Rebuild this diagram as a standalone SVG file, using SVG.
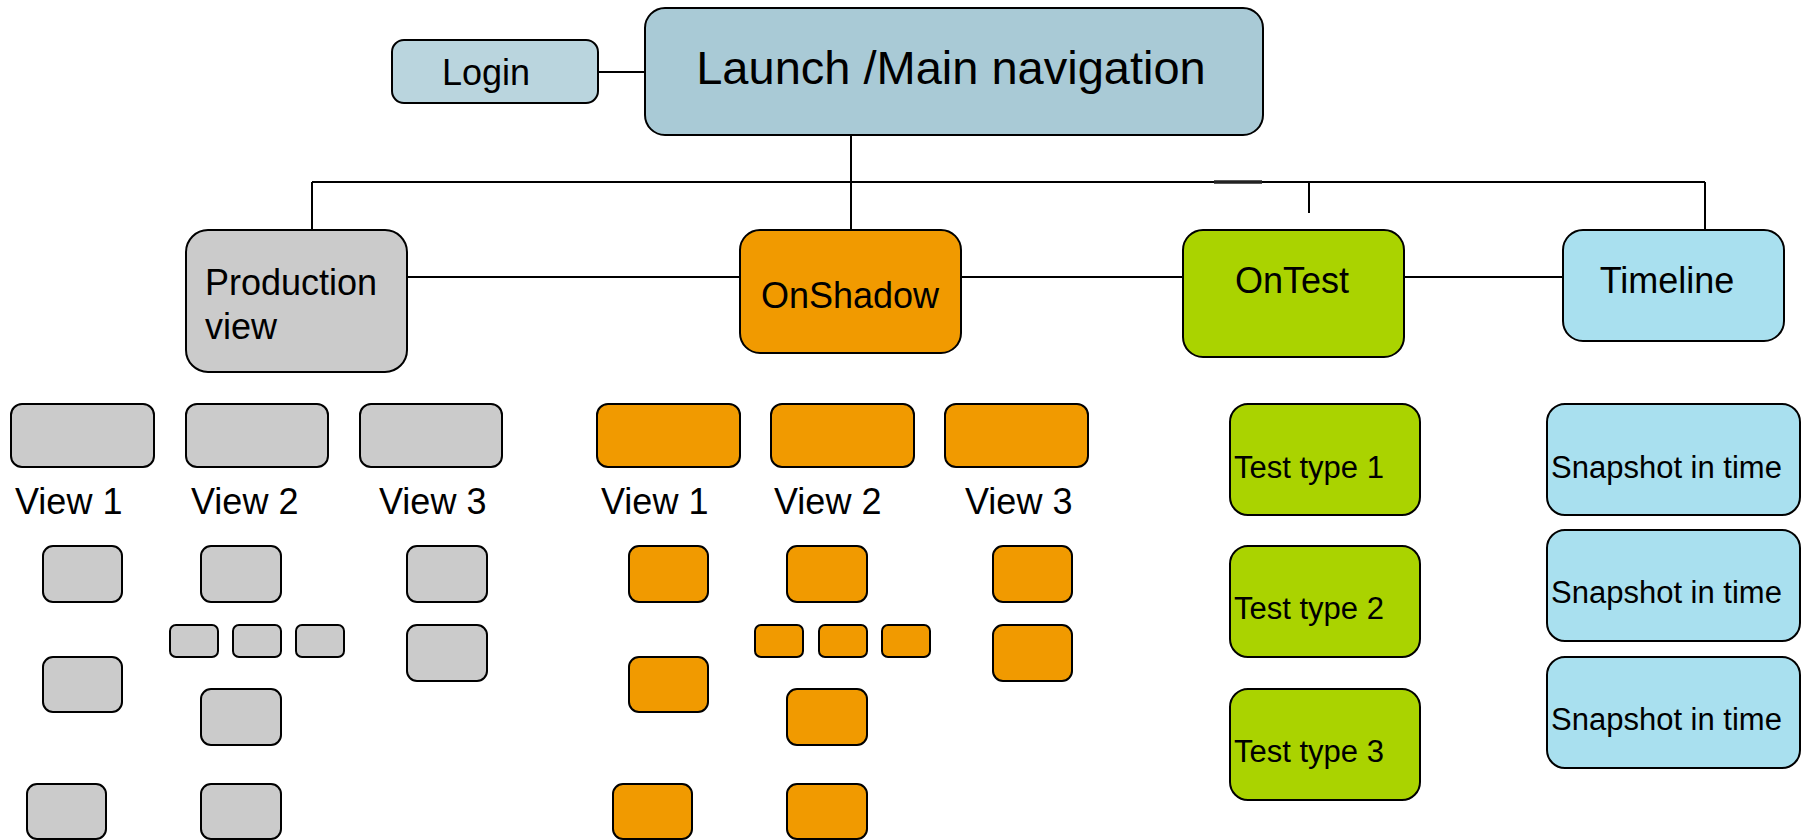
<svg xmlns="http://www.w3.org/2000/svg" width="1809" height="840" viewBox="0 0 1809 840">
<style>
rect{stroke:#000;stroke-width:2}
.login{fill:#bad5de}
.main{fill:#a9cad6}
.gray{fill:#cbcbcb}
.orange{fill:#f19a00}
.green{fill:#aad300}
.cyan{fill:#a9e0ef}
text{font-family:"Liberation Sans",Arial,sans-serif;fill:#000}
.t36{font-size:36px}
.t31{font-size:31px}
.conn line{stroke:#000;stroke-width:2}
</style>
<rect x="0" y="0" width="1809" height="840" fill="#fff" style="stroke:none"/>
<g id="connectors" class="conn">
  <line x1="598" y1="72" x2="645" y2="72"/>
  <line x1="851" y1="135" x2="851" y2="230"/>
  <line x1="312" y1="182" x2="1705" y2="182"/>
  <line x1="1214" y1="182" x2="1262" y2="182" style="stroke-width:3.5;stroke:#222"/>
  <line x1="312" y1="182" x2="312" y2="230"/>
  <line x1="1309" y1="182" x2="1309" y2="213"/>
  <line x1="1705" y1="182" x2="1705" y2="230"/>
  <line x1="407" y1="277" x2="740" y2="277"/>
  <line x1="961" y1="277" x2="1183" y2="277"/>
  <line x1="1404" y1="277" x2="1563" y2="277"/>
</g>
<g id="login"><rect class="login" x="392" y="40" width="206" height="63" rx="12"/><text class="t36" x="486" y="85" text-anchor="middle">Login</text></g>
<g id="main"><rect class="main" x="645" y="8" width="618" height="127" rx="20"/><text x="951" y="84" font-size="47" text-anchor="middle">Launch /Main navigation</text></g>
<g id="production"><rect class="gray" x="186" y="230" width="221" height="142" rx="22"/><text class="t36" x="205" y="295">Production</text><text class="t36" x="205" y="339">view</text></g>
<g id="onshadow"><rect class="orange" x="740" y="230" width="221" height="123" rx="20"/><text class="t36" x="850" y="308" text-anchor="middle">OnShadow</text></g>
<g id="ontest"><rect class="green" x="1183" y="230" width="221" height="127" rx="20"/><text class="t36" x="1292" y="293" text-anchor="middle">OnTest</text></g>
<g id="timeline"><rect class="cyan" x="1563" y="230" width="221" height="111" rx="20"/><text class="t36" x="1667" y="293" text-anchor="middle">Timeline</text></g>

<g id="prod-view1"><rect class="gray" x="11" y="404" width="143" height="63" rx="11"/><text class="t36" x="15" y="514">View 1</text></g>
<g id="prod-view2"><rect class="gray" x="186" y="404" width="142" height="63" rx="11"/><text class="t36" x="191" y="514">View 2</text></g>
<g id="prod-view3"><rect class="gray" x="360" y="404" width="142" height="63" rx="11"/><text class="t36" x="379" y="514">View 3</text></g>
<g id="prod-v1-a"><rect class="gray" x="43" y="546" width="79" height="56" rx="10"/></g>
<g id="prod-v1-b"><rect class="gray" x="43" y="657" width="79" height="55" rx="10"/></g>
<g id="prod-v1-c"><rect class="gray" x="27" y="784" width="79" height="55" rx="10"/></g>
<g id="prod-v2-a"><rect class="gray" x="201" y="546" width="80" height="56" rx="10"/></g>
<g id="prod-v2-s1"><rect class="gray" x="170" y="625" width="48" height="32" rx="6"/></g>
<g id="prod-v2-s2"><rect class="gray" x="233" y="625" width="48" height="32" rx="6"/></g>
<g id="prod-v2-s3"><rect class="gray" x="296" y="625" width="48" height="32" rx="6"/></g>
<g id="prod-v2-b"><rect class="gray" x="201" y="689" width="80" height="56" rx="10"/></g>
<g id="prod-v2-c"><rect class="gray" x="201" y="784" width="80" height="55" rx="10"/></g>
<g id="prod-v3-a"><rect class="gray" x="407" y="546" width="80" height="56" rx="10"/></g>
<g id="prod-v3-b"><rect class="gray" x="407" y="625" width="80" height="56" rx="10"/></g>

<g id="shadow-view1"><rect class="orange" x="597" y="404" width="143" height="63" rx="11"/><text class="t36" x="601" y="514">View 1</text></g>
<g id="shadow-view2"><rect class="orange" x="771" y="404" width="143" height="63" rx="11"/><text class="t36" x="774" y="514">View 2</text></g>
<g id="shadow-view3"><rect class="orange" x="945" y="404" width="143" height="63" rx="11"/><text class="t36" x="965" y="514">View 3</text></g>
<g id="shadow-v1-a"><rect class="orange" x="629" y="546" width="79" height="56" rx="10"/></g>
<g id="shadow-v1-b"><rect class="orange" x="629" y="657" width="79" height="55" rx="10"/></g>
<g id="shadow-v1-c"><rect class="orange" x="613" y="784" width="79" height="55" rx="10"/></g>
<g id="shadow-v2-a"><rect class="orange" x="787" y="546" width="80" height="56" rx="10"/></g>
<g id="shadow-v2-s1"><rect class="orange" x="755" y="625" width="48" height="32" rx="6"/></g>
<g id="shadow-v2-s2"><rect class="orange" x="819" y="625" width="48" height="32" rx="6"/></g>
<g id="shadow-v2-s3"><rect class="orange" x="882" y="625" width="48" height="32" rx="6"/></g>
<g id="shadow-v2-b"><rect class="orange" x="787" y="689" width="80" height="56" rx="10"/></g>
<g id="shadow-v2-c"><rect class="orange" x="787" y="784" width="80" height="55" rx="10"/></g>
<g id="shadow-v3-a"><rect class="orange" x="993" y="546" width="79" height="56" rx="10"/></g>
<g id="shadow-v3-b"><rect class="orange" x="993" y="625" width="79" height="56" rx="10"/></g>

<g id="test1"><rect class="green" x="1230" y="404" width="190" height="111" rx="18"/><text class="t31" x="1234" y="478">Test type 1</text></g>
<g id="test2"><rect class="green" x="1230" y="546" width="190" height="111" rx="18"/><text class="t31" x="1234" y="619">Test type 2</text></g>
<g id="test3"><rect class="green" x="1230" y="689" width="190" height="111" rx="18"/><text class="t31" x="1234" y="762">Test type 3</text></g>

<g id="snapshot1"><rect class="cyan" x="1547" y="404" width="253" height="111" rx="18"/><text class="t31" x="1551" y="478">Snapshot in time</text></g>
<g id="snapshot2"><rect class="cyan" x="1547" y="530" width="253" height="111" rx="18"/><text class="t31" x="1551" y="603">Snapshot in time</text></g>
<g id="snapshot3"><rect class="cyan" x="1547" y="657" width="253" height="111" rx="18"/><text class="t31" x="1551" y="730">Snapshot in time</text></g>
</svg>
